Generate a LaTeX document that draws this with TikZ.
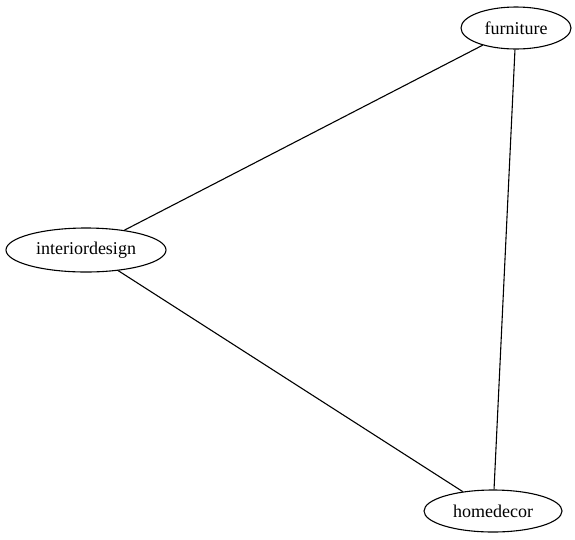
\documentclass[tikz,border=0pt]{standalone}
\usepackage{fontspec}
\setmainfont{Liberation Serif}
\usetikzlibrary{shapes.geometric}
\tikzset{
  topic/.style={draw, ellipse, inner sep=0pt, line width=1.1pt, font=\fontsize{18}{20}\selectfont},
  link/.style={line width=1.1pt}
}

\begin{document}
\begin{tikzpicture}[x=1pt, y=-1pt]
      \useasboundingbox (0,0) rectangle (575,539);
      \node[topic, minimum width=110pt, minimum height=42pt] (furniture) at (516,28) {furniture};
      \node[topic, minimum width=160pt, minimum height=44pt] (interiordesign) at (86,250) {interiordesign};
      \node[topic, minimum width=138pt, minimum height=42pt] (homedecor) at (493,511) {homedecor};
      \draw[link] (furniture) -- (interiordesign);
      \draw[link] (furniture) -- (homedecor);
      \draw[link] (interiordesign) -- (homedecor);
    \end{tikzpicture}
\end{document}
